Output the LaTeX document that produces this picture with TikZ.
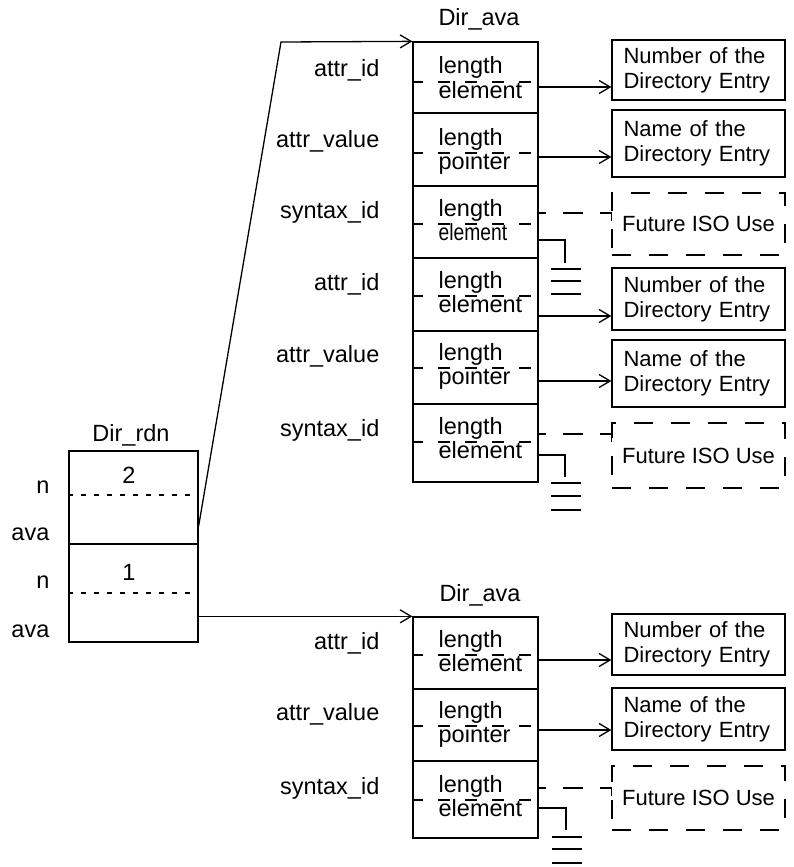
\documentclass[tikz,border=0pt]{standalone}
\usepackage{fontspec}
\setmainfont{Liberation Sans}
\usetikzlibrary{arrows.meta,calc}
\tikzset{cell/.style={draw,minimum width=125pt,inner sep=0pt},
 fld/.style={anchor=base west,inner sep=0pt},
 lab/.style={anchor=base east,inner sep=0pt},
 ttl/.style={anchor=base,inner sep=0pt},
 ent/.style={draw,minimum width=173pt,text width=150pt,inner xsep=11.5pt,inner ysep=0pt,
   align=left,font=\fontsize{22}{25}\selectfont},
 fut/.style={draw,minimum width=173pt,inner sep=0pt,font=\fontsize{22}{25}\selectfont,
   dash pattern=on 19pt off 18pt},
 sep/.style={dash pattern=on 12pt off 15pt,dash phase=1pt},
 dots/.style={dash pattern=on 5pt off 8pt},
 opt/.style={dash pattern=on 20pt off 17pt,dash phase=13pt},
 arr/.style={-{Straight Barb[length=11pt,width=13pt]}}}
\begin{document}
\begin{tikzpicture}[x=1pt,y=-1pt,line width=1.3pt,font=\fontsize{23.5}{26}\selectfont]
\useasboundingbox (0,0) rectangle (793,867);
% Dir_rdn
\node[ttl] (rdnttl) at (131,441) {Dir\_rdn};
\node[draw,minimum width=129pt,minimum height=191pt,inner sep=0pt] (rdn) at (133.5,546.5) {};
\draw (rdn.west |- 0,544) -- (rdn.east |- 0,544);
\draw[dots] (rdn.west |- 0,495) -- (rdn.east |- 0,495);
\draw[dots] (rdn.west |- 0,593) -- (rdn.east |- 0,593);
\node[ttl] (k2) at (129,483) {2};\node[ttl] (k1) at (129,580) {1};
\node[lab] (r1) at (50,493) {n};\node[lab] (r2) at (50,540) {ava};
\node[lab] (r3) at (50,588) {n};\node[lab] (r4) at (50,637) {ava};
% upper Dir_ava
\node[ttl] (avattl1) at (479,26) {Dir\_ava};
\node[cell,minimum height=71pt] (c1) at (475.5,77.5) {};
\node[cell,minimum height=73pt] (c2) at (475.5,149.5) {};
\node[cell,minimum height=72pt] (c3) at (475.5,222) {};
\node[cell,minimum height=73pt] (c4) at (475.5,294.5) {};
\node[cell,minimum height=73pt] (c5) at (475.5,367.5) {};
\node[cell,minimum height=78pt] (c6) at (475.5,443) {};
\draw[sep] (c1.west |- 0,82) -- (c1.east |- 0,82);
\draw[sep] (c2.west |- 0,153) -- (c2.east |- 0,153);
\draw[sep] (c3.west |- 0,224) -- (c3.east |- 0,224);
\draw[sep] (c4.west |- 0,296) -- (c4.east |- 0,296);
\draw[sep] (c5.west |- 0,368) -- (c5.east |- 0,368);
\draw[sep] (c6.west |- 0,442) -- (c6.east |- 0,442);
\node[fld] (c1a) at (438,74) {length};\node[fld] (c1b) at (438,98) {element};
\node[fld] (c2a) at (438,145) {length};\node[fld] (c2b) at (438,169) {pointer};
\node[fld] (c3a) at (438,216) {length};\node[fld] (c3b) at (438,240) {\scalebox{0.82}[1]{element}};
\node[fld] (c4a) at (438,288) {length};\node[fld] (c4b) at (438,312) {element};
\node[fld] (c5a) at (438,360) {length};\node[fld] (c5b) at (438,384) {pointer};
\node[fld] (c6a) at (438,434) {length};\node[fld] (c6b) at (438,458) {element};
\node[lab] (l1) at (380,76) {attr\_id};
\node[lab] (l2) at (380,147) {attr\_value};
\node[lab] (l3) at (380,218) {syntax\_id};
\node[lab] (l4) at (380,290) {attr\_id};
\node[lab] (l5) at (380,362) {attr\_value};
\node[lab] (l6) at (380,436) {syntax\_id};
\node[ent,minimum height=60pt] (n1) at (698.5,70) {Number of the\\Directory Entry};
\node[ent,minimum height=67pt] (n2) at (698.5,143.5) {Name of the\\Directory Entry};
\node[fut,minimum height=62pt] (f1) at (698.5,224) {Future ISO Use};
\node[ent,minimum height=62pt] (n3) at (698.5,299) {Number of the\\Directory Entry};
\node[ent,minimum height=67pt] (n4) at (698.5,373.5) {Name of the\\Directory Entry};
\node[fut,minimum height=65pt] (f2) at (698.5,455.5) {Future ISO Use};
\draw[arr] (c1.east |- 0,87) -- (n1.west |- 0,87);
\draw[arr] (c2.east |- 0,157) -- (n2.west |- 0,157);
\draw[opt] (c3.east |- 0,213) -- (f1.west |- 0,213) -- ++(0,14);
\draw[arr] (c4.east |- 0,316) -- (n3.west |- 0,316);
\draw[arr] (c5.east |- 0,381) -- (n4.west |- 0,381);
\draw[opt] (c6.east |- 0,434) -- (f2.west |- 0,434) -- ++(0,14);
\coordinate (g1) at (565,263);\coordinate (g2) at (565,477);
\draw (c3.east |- 0,240) -| (g1);
\draw (c6.east |- 0,455) -| (g2);
\draw ($(g1)+(-14,6)$) -- ++(30,0) ($(g1)+(-14,18)$) -- ++(30,0) ($(g1)+(-14,31)$) -- ++(30,0);
\draw ($(g2)+(-14,6)$) -- ++(30,0) ($(g2)+(-14,19)$) -- ++(30,0) ($(g2)+(-14,33)$) -- ++(30,0);
% lower Dir_ava
\node[ttl] (avattl2) at (480,601) {Dir\_ava};
\node[cell,minimum height=72pt] (c7) at (475.5,653) {};
\node[cell,minimum height=72pt] (c8) at (475.5,725) {};
\node[cell,minimum height=77pt] (c9) at (475.5,799.5) {};
\draw[sep] (c7.west |- 0,655) -- (c7.east |- 0,655);
\draw[sep] (c8.west |- 0,726) -- (c8.east |- 0,726);
\draw[sep] (c9.west |- 0,800) -- (c9.east |- 0,800);
\node[fld] (c7a) at (438,647) {length};\node[fld] (c7b) at (438,671) {element};
\node[fld] (c8a) at (438,718) {length};\node[fld] (c8b) at (438,742) {pointer};
\node[fld] (c9a) at (438,792) {length};\node[fld] (c9b) at (438,816) {element};
\node[lab] (l7) at (380,649) {attr\_id};
\node[lab] (l8) at (380,720) {attr\_value};
\node[lab] (l9) at (380,794) {syntax\_id};
\node[ent,minimum height=61pt] (n5) at (698.5,644.5) {Number of the\\Directory Entry};
\node[ent,minimum height=62pt] (n6) at (698.5,719) {Name of the\\Directory Entry};
\node[fut,minimum height=64pt] (f3) at (698.5,798) {Future ISO Use};
\draw[arr] (c7.east |- 0,660) -- (n5.west |- 0,660);
\draw[arr] (c8.east |- 0,730) -- (n6.west |- 0,730);
\draw[opt] (c9.east |- 0,788) -- (f3.west |- 0,788) -- ++(0,14);
\coordinate (g3) at (566,830);
\draw (c9.east |- 0,808) -| (g3);
\draw ($(g3)+(-14,7)$) -- ++(30,0) ($(g3)+(-14,19)$) -- ++(30,0) ($(g3)+(-14,33)$) -- ++(30,0);
% links from Dir_rdn
\coordinate (bend) at (281,42);
\draw[arr] (rdn.east |- 0,526) -- (bend) -- (c1.north west);
\draw[arr] (rdn.east |- c7.north west) -- (c7.north west);
\end{tikzpicture}
\end{document}
